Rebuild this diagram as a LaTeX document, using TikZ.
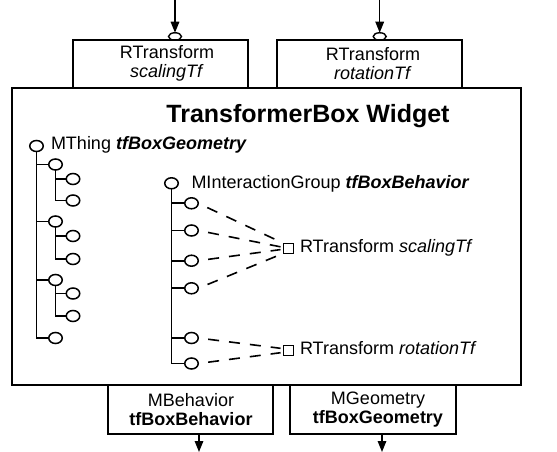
\documentclass[tikz,border=0pt]{standalone}
\usepackage{fontspec}
\setmainfont{Liberation Sans}
\usetikzlibrary{arrows.meta,shapes.geometric}
\begin{document}
\begin{tikzpicture}[x=1pt,y=-1pt,
  every node/.style={inner sep=0pt, outer sep=0pt},
  lbl/.style={font=\fontsize{18}{19}\selectfont, anchor=base west},
  btxt/.style={font=\fontsize{18}{19}\selectfont, align=center},
  bub/.style={draw, ellipse, minimum width=13.5pt, minimum height=11pt, line width=1.5pt},
  port/.style={draw, ellipse, minimum width=13pt, minimum height=7.5pt, line width=1.4pt},
  tree/.style={line width=1.7pt},
  box/.style={draw, line width=1.5pt},
  dsh/.style={line width=1.6pt, dash pattern=on 11pt off 10pt, dash phase=11pt, shorten >=3pt},
  sqr/.style={draw, minimum size=10pt, line width=1.4pt},
  arr/.style={line width=1.5pt, -{Triangle[length=11pt,width=8.5pt]}}
]
\useasboundingbox (0,0) rectangle (557,452);

% main box
\node[draw, line width=2pt, minimum width=509pt, minimum height=297pt] (main) at (266.5,236.5) {};
\node[font=\bfseries\fontsize{25}{25}\selectfont, anchor=base] (title) at (308,122) {TransformerBox Widget};

% top boxes
\node[box, minimum width=175pt, minimum height=48pt] (tb1) at (160.5,64) {};
\node[btxt] (tb1t) at (167,63.5) {RTransform\\\textit{scalingTf}};
\node[box, minimum width=185pt, minimum height=48pt] (tb2) at (369.5,64) {};
\node[btxt] (tb2t) at (373,63.5) {RTransform\\\textit{rotationTf}};
\node[port] (p1) at (175,36.5) {};
\node[port] (p2) at (379.7,36.5) {};
\coordinate (a1) at (175,0);
\coordinate (a2) at (379.7,0);
\draw[arr] (a1) -- (p1.north);
\draw[arr] (a2) -- (p2.north);

% bottom boxes
\node[box, minimum width=165pt, minimum height=49pt] (bb1) at (190.5,409.5) {};
\node[btxt] (bb1t) at (191,410) {MBehavior\\\textbf{tfBoxBehavior}};
\node[box, minimum width=166pt, minimum height=49pt] (bb2) at (373,409.5) {};
\node[btxt] (bb2t) at (378,410) {MGeometry\\\textbf{tfBoxGeometry}};
\coordinate (b1) at (199,452);
\coordinate (b2) at (382,452);
\draw[arr] (bb1.south -| b1) -- (b1);
\draw[arr] (bb2.south -| b2) -- (b2);

% left tree
\node[bub] (L0) at (36.5,146) {};
\node[lbl] (L0t) at (51,149.5) {MThing \textbf{\textit{tfBoxGeometry}}};
\node[bub] (L1a) at (55.5,164.5) {};
\node[bub] (L1b) at (55.5,221.5) {};
\node[bub] (L1c) at (55.5,280) {};
\node[bub] (L1d) at (55.5,338) {};
\node[bub] (G1a) at (73,179) {};
\node[bub] (G1b) at (73,200.5) {};
\node[bub] (G2a) at (73,236) {};
\node[bub] (G2b) at (73,259) {};
\node[bub] (G3a) at (73,293.5) {};
\node[bub] (G3b) at (73,316) {};
\draw[tree] (L0.south) |- (L1d.west);
\foreach \n in {L1a,L1b,L1c} \draw[tree] (L0.south |- \n) -- (\n.west);
\draw[tree] (L1a.south) |- (G1b.west);
\draw[tree] (L1a.south |- G1a) -- (G1a.west);
\draw[tree] (L1b.south) |- (G2b.west);
\draw[tree] (L1b.south |- G2a) -- (G2a.west);
\draw[tree] (L1c.south) |- (G3b.west);
\draw[tree] (L1c.south |- G3a) -- (G3a.west);

% right tree
\node[bub] (R0) at (171.5,183.3) {};
\node[lbl] (R0t) at (191.5,188) {MInteractionGroup \textbf{\textit{tfBoxBehavior}}};
\node[bub] (C1) at (191.5,203.3) {};
\node[bub] (C2) at (191.5,230.5) {};
\node[bub] (C3) at (191.5,260.7) {};
\node[bub] (C4) at (191.5,288.3) {};
\node[bub] (C5) at (191.5,338) {};
\node[bub] (C6) at (191.5,363.5) {};
\draw[tree] (R0.south) |- (C6.west);
\foreach \n in {C1,C2,C3,C4,C5} \draw[tree] (R0.south |- \n) -- (\n.west);

\node[sqr] (S1) at (288.5,248.3) {};
\node[lbl] (S1t) at (300,252.5) {RTransform \textit{scalingTf}};
\node[sqr] (S2) at (288.5,350.5) {};
\node[lbl] (S2t) at (300,354) {RTransform \textit{rotationTf}};

\draw[dsh] (C1.east) -- (S1.north west);
\draw[dsh] (C2.east) -- (S1.170);
\draw[dsh] (C3.east) -- (S1.190);
\draw[dsh] (C4.east) -- (S1.south west);
\draw[dsh] (C5.east) -- (S2.160);
\draw[dsh] (C6.east) -- (S2.200);
\end{tikzpicture}
\end{document}
